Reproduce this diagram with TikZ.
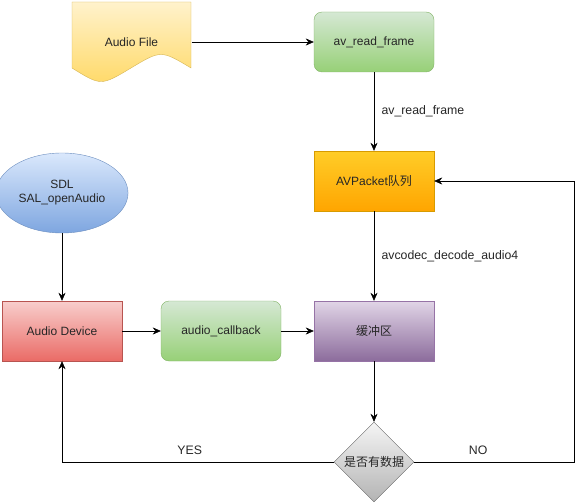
\documentclass[tikz,border=0pt]{standalone}
\usepackage{fontspec}
\setmainfont{Liberation Sans}
\newfontfamily\cjk{Noto Sans CJK SC}
\usetikzlibrary{shapes.geometric,arrows.meta}
\definecolor{fileTop}{HTML}{FFF2CC}\definecolor{fileBot}{HTML}{FFD966}\definecolor{fileLine}{HTML}{D6B656}
\definecolor{grnTop}{HTML}{D5E8D4}\definecolor{grnBot}{HTML}{97D077}\definecolor{grnLine}{HTML}{82B366}
\definecolor{orgTop}{HTML}{FFCD28}\definecolor{orgBot}{HTML}{FFA500}\definecolor{orgLine}{HTML}{D79B00}
\definecolor{purTop}{HTML}{E1D5E7}\definecolor{purBot}{HTML}{8C6C9C}\definecolor{purLine}{HTML}{9673A6}
\definecolor{bluTop}{HTML}{DAE8FC}\definecolor{bluBot}{HTML}{7EA6E0}\definecolor{bluLine}{HTML}{6C8EBF}
\definecolor{redTop}{HTML}{F8CECC}\definecolor{redBot}{HTML}{EA6B66}\definecolor{redLine}{HTML}{B85450}
\definecolor{gryTop}{HTML}{F5F5F5}\definecolor{gryBot}{HTML}{B3B3B3}\definecolor{gryLine}{HTML}{666666}
\tikzset{
  box/.style={rectangle,minimum width=120pt,minimum height=60pt,font=\fontsize{12}{14}\selectfont,text=black!85},
  lbl/.style={font=\fontsize{12.3}{14}\selectfont,text=black!85},
  flow/.style={-{Stealth[length=8pt,width=7pt]},thin}
}
\begin{document}
\begin{tikzpicture}[x=1pt,y=-1pt]
            \useasboundingbox (0,0) rectangle (581,503);
            % audio file (document shape)
            \shade[top color=fileTop,bottom color=fileBot,draw=fileLine]
                (72,2)--(191,2)--(191,68) .. controls (161,50) .. (131,68) .. controls (101,86) .. (72,68)--cycle;
            \node[box,minimum height=80pt] (file) at (131.5,42) {Audio File};
            \node[box,rounded corners=8pt,draw=grnLine,top color=grnTop,bottom color=grnBot] (read) at (374,42) {av\_read\_frame};
            \node[box,draw=orgLine,top color=orgTop,bottom color=orgBot] (queue) at (374,181) {AVPacket{\cjk 队列}};
            \node[box,draw=purLine,top color=purTop,bottom color=purBot] (buffer) at (374,331) {\cjk 缓冲区};
            \node[box,diamond,aspect=1,inner sep=0pt,minimum width=80pt,minimum height=80pt,draw=gryLine,top color=gryTop,bottom color=gryBot] (check) at (374,462) {\cjk 是否有数据};
            \node[box,ellipse,minimum width=120pt,minimum height=80pt,align=center,draw=bluLine,top color=bluTop,bottom color=bluBot] (sdl) at (62,193) {SDL\\SAL\_openAudio};
            \node[box,draw=redLine,top color=redTop,bottom color=redBot] (device) at (62,331) {Audio Device};
            \node[box,rounded corners=8pt,draw=grnLine,top color=grnTop,bottom color=grnBot] (callback) at (221,331) {audio\_callback};
            % connectors
            \draw[flow] (file.east)--(read);
            \draw[flow] (read)--node[lbl,right,xshift=4pt]{av\_read\_frame}(queue);
            \draw[flow] (queue)--node[lbl,right,xshift=4pt]{avcodec\_decode\_audio4}(buffer);
            \draw[flow] (sdl)--(device);
            \draw[flow] (device)--(callback);
            \draw[flow] (callback)--(buffer);
            \draw[flow] (buffer)--(check);
            \draw[flow] (check.east)--node[lbl,above,pos=0.4,yshift=4pt]{NO}(574,462)--(574,181)--(queue.east);
            \draw[flow] (check.west)--node[lbl,above,pos=0.53,yshift=4pt]{YES}(62,462)--(device.south);
        \end{tikzpicture}
\end{document}
